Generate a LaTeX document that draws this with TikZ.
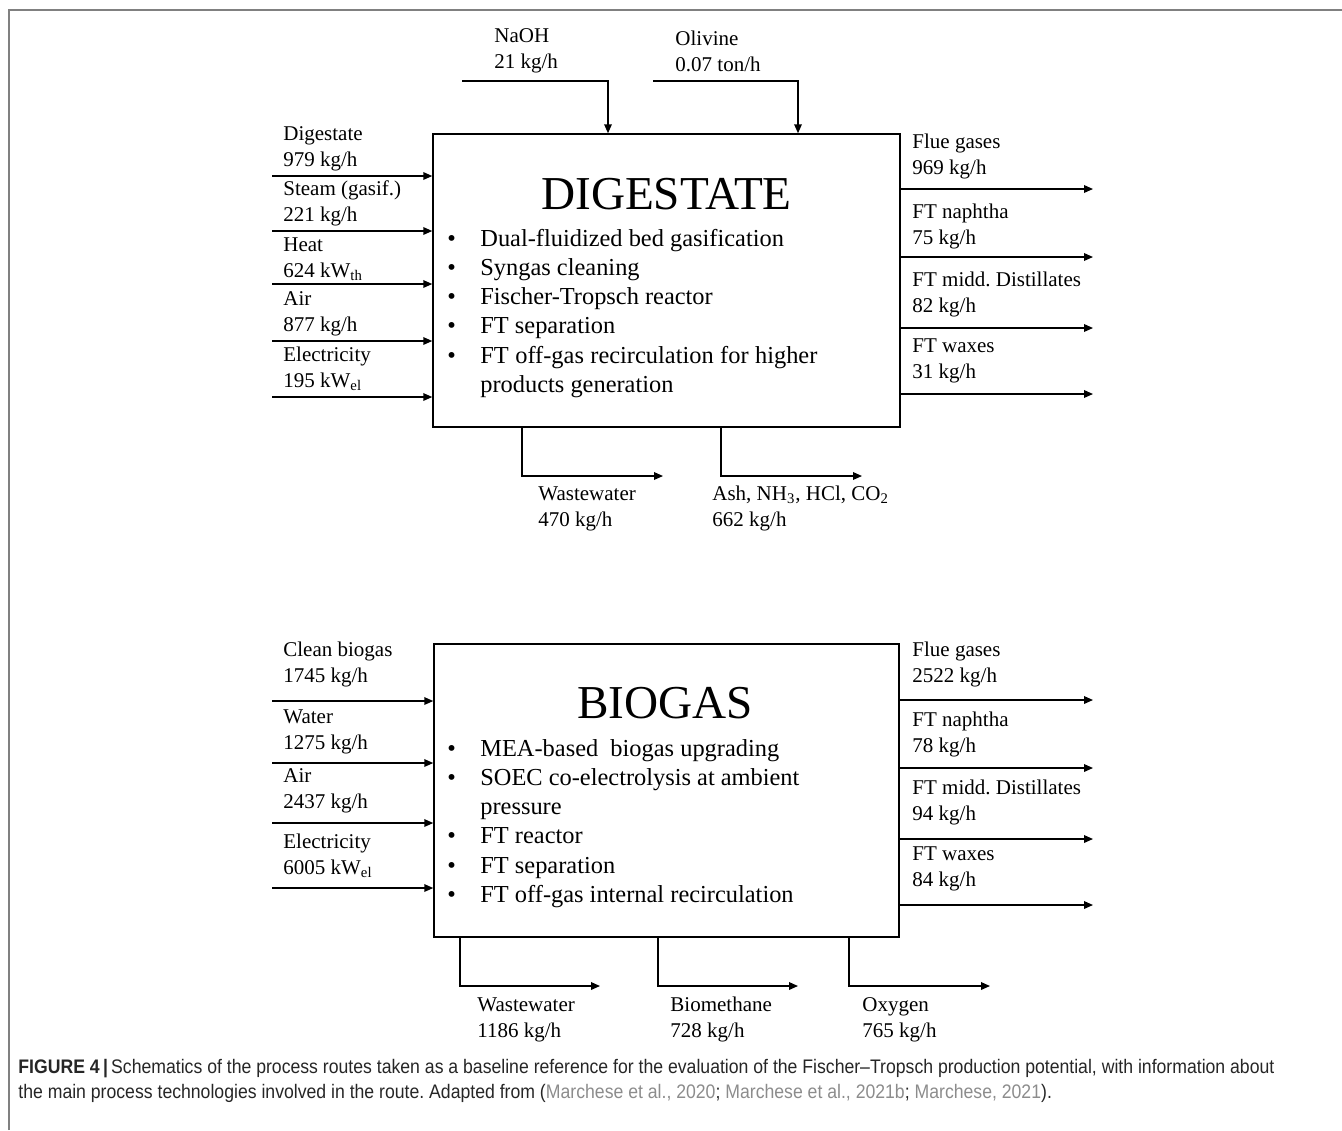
\documentclass[tikz,border=0pt]{standalone}
\usepackage{fontspec}
\setmainfont{Liberation Serif}
\newfontfamily\capfont[FakeStretch=0.9]{Liberation Sans}
\usetikzlibrary{arrows.meta,positioning}
\definecolor{framegray}{HTML}{808080}
\definecolor{refgray}{HTML}{8C8C8C}
\definecolor{captext}{HTML}{262626}
\tikzset{
  flow/.style={-{Triangle[length=4.5pt,width=3.8pt]}, line width=0.75pt},
  procbox/.style={draw, line width=0.75pt, inner sep=0pt, minimum height=146.5pt},
  lbl/.style={anchor=west, align=left, inner sep=0pt, font=\fontsize{10.5}{13}\selectfont},
  boxtitle/.style={inner sep=0pt, font=\fontsize{23.6}{26}\selectfont},
  techlist/.style={anchor=base west, inner sep=0pt, font=\fontsize{12.2}{14.65}\selectfont},
  capt/.style={anchor=west, inner sep=0pt, text=captext, font=\capfont\fontsize{9.8}{12}\selectfont}
}
\begin{document}
\frenchspacing
\begin{tikzpicture}[x=0.5pt,y=-0.5pt]
\useasboundingbox (0,0) rectangle (1342,1130);
% frame
\draw[framegray, line width=0.6pt] (9,1130) -- (9,10) -- (1342,10);

% ---- digestate route ----
\node[procbox, minimum width=233.5pt] (dig) at (666.5,280.5) {};
\node[boxtitle] (digtitle) at (666.5,194.5) {DIGESTATE};
\node[techlist] (diglist) at (447,246) {\begin{tabular}[t]{@{}p{16.5pt}@{}l@{}}
\textbullet & Dual-fluidized bed gasification\\
\textbullet & Syngas cleaning\\
\textbullet & Fischer-Tropsch reactor\\
\textbullet & FT separation\\
\textbullet & \makebox[168.5pt][s]{FT off-gas recirculation for higher}\\
 & products generation
\end{tabular}};

% top feeds
\node[lbl] (naoh) at (494,51) {NaOH\\21 kg/h};
\node[lbl] (oliv) at (675,51) {Olivine\\0.07 ton/h};
\coordinate (naoh0) at (462,81);
\coordinate (naoh1) at (608,81);
\coordinate (oliv0) at (653,81);
\coordinate (oliv1) at (798,81);
\draw[flow] (naoh0) -- (naoh1) -- (naoh1 |- dig.north);
\draw[flow] (oliv0) -- (oliv1) -- (oliv1 |- dig.north);

% inputs
\node[lbl] (din1) at (283,149) {Digestate\\979 kg/h};
\node[lbl] (din2) at (283,203.5) {Steam (gasif.)\\221 kg/h};
\node[lbl] (din3) at (283,259) {Heat\\624 kW\textsubscript{th}};
\node[lbl] (din4) at (283,314) {Air\\877 kg/h};
\node[lbl] (din5) at (283,369) {Electricity\\195 kW\textsubscript{el}};
\coordinate (di1) at (272,176);
\coordinate (di2) at (272,231);
\coordinate (di3) at (272,284);
\coordinate (di4) at (272,341);
\coordinate (di5) at (272,397);
\foreach \i in {1,...,5} \draw[flow] (di\i) -- (di\i -| dig.west);

% outputs
\node[lbl] (dout1) at (912,156) {Flue gases\\969 kg/h};
\node[lbl] (dout2) at (912,226) {FT naphtha\\75 kg/h};
\node[lbl] (dout3) at (912,294) {FT midd. Distillates\\82 kg/h};
\node[lbl] (dout4) at (912,360.5) {FT waxes\\31 kg/h};
\coordinate (do1) at (1093,189);
\coordinate (do2) at (1093,257);
\coordinate (do3) at (1093,328);
\coordinate (do4) at (1093,394);
\foreach \i in {1,...,4} \draw[flow] (do\i -| dig.east) -- (do\i);

% bottom streams
\node[lbl] (dww) at (538,508.5) {Wastewater\\470 kg/h};
\node[lbl] (dash) at (712,508.5) {Ash, NH\textsubscript{3}, HCl, CO\textsubscript{2}\\662 kg/h};
\coordinate (dww0) at (522,476);
\coordinate (dww1) at (663,476);
\coordinate (dash0) at (721,476);
\coordinate (dash1) at (862,476);
\draw[flow] (dww0 |- dig.south) -- (dww0) -- (dww1);
\draw[flow] (dash0 |- dig.south) -- (dash0) -- (dash1);

% ---- biogas route ----
\node[procbox, minimum width=232.5pt] (bio) at (666.5,790.5) {};
\node[boxtitle] (biotitle) at (665,703.5) {BIOGAS};
\node[techlist] (biolist) at (447,756) {\begin{tabular}[t]{@{}p{16.5pt}@{}l@{}}
\textbullet & MEA-based\ \ biogas upgrading\\
\textbullet & \makebox[159.5pt][s]{SOEC co-electrolysis at ambient}\\
 & pressure\\
\textbullet & FT reactor\\
\textbullet & FT separation\\
\textbullet & FT off-gas internal recirculation
\end{tabular}};

% inputs
\node[lbl] (bin1) at (283,664) {Clean biogas\\1745 kg/h};
\node[lbl] (bin2) at (283,732) {Water\\1275 kg/h};
\node[lbl] (bin3) at (283,790.5) {Air\\2437 kg/h};
\node[lbl] (bin4) at (283,856) {Electricity\\6005 kW\textsubscript{el}};
\coordinate (bi1) at (272,701);
\coordinate (bi2) at (272,763);
\coordinate (bi3) at (272,823);
\coordinate (bi4) at (272,888);
\foreach \i in {1,...,4} \draw[flow] (bi\i) -- (bi\i -| bio.west);

% outputs
\node[lbl] (bout1) at (912,664) {Flue gases\\2522 kg/h};
\node[lbl] (bout2) at (912,734) {FT naphtha\\78 kg/h};
\node[lbl] (bout3) at (912,802) {FT midd. Distillates\\94 kg/h};
\node[lbl] (bout4) at (912,868.5) {FT waxes\\84 kg/h};
\coordinate (bo1) at (1093,700);
\coordinate (bo2) at (1093,768);
\coordinate (bo3) at (1093,839);
\coordinate (bo4) at (1093,905);
\foreach \i in {1,...,4} \draw[flow] (bo\i -| bio.east) -- (bo\i);

% bottom streams
\node[lbl] (bww) at (477,1019.5) {Wastewater\\1186 kg/h};
\node[lbl] (bch4) at (670,1019.5) {Biomethane\\728 kg/h};
\node[lbl] (box2) at (862,1019.5) {Oxygen\\765 kg/h};
\coordinate (bww0) at (460,986);
\coordinate (bww1) at (600,986);
\coordinate (bch40) at (658,986);
\coordinate (bch41) at (798,986);
\coordinate (bo20) at (849,986);
\coordinate (bo21) at (990,986);
\draw[flow] (bww0 |- bio.south) -- (bww0) -- (bww1);
\draw[flow] (bch40 |- bio.south) -- (bch40) -- (bch41);
\draw[flow] (bo20 |- bio.south) -- (bo20) -- (bo21);

% caption
\node[capt] (cap1) at (18,1069) {{\bfseries FIGURE 4\,|\,}Schematics of the process routes taken as a baseline reference for the evaluation of the Fischer–Tropsch production potential, with information about};
\node[capt] (cap2) at (18,1093) {the main process technologies involved in the route. Adapted from (\textcolor{refgray}{Marchese et al., 2020}; \textcolor{refgray}{Marchese et al., 2021b}; \textcolor{refgray}{Marchese, 2021}).};
\end{tikzpicture}
\end{document}
